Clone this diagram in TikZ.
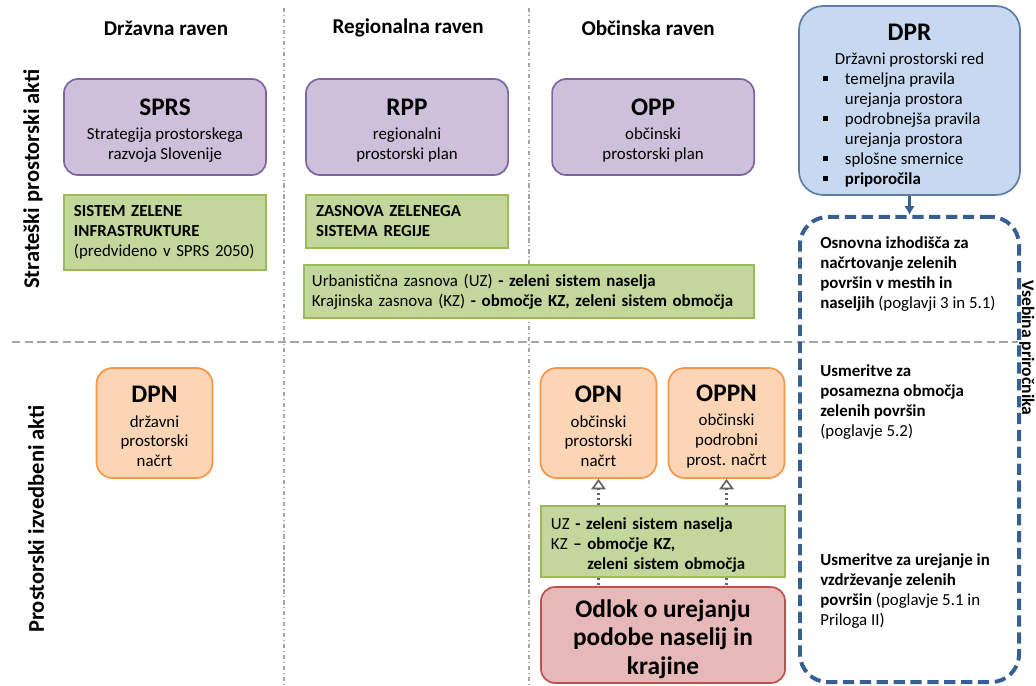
\documentclass[tikz,border=0pt]{standalone}
\usepackage{fontspec}
\setmainfont{Carlito}
\usepackage{tikz}
\usetikzlibrary{arrows.meta, positioning}

\definecolor{purplefill}{RGB}{204,192,218}
\definecolor{purpledraw}{RGB}{128,100,162}
\definecolor{greenfill}{RGB}{195,214,155}
\definecolor{greendraw}{RGB}{155,187,89}
\definecolor{bluefill}{RGB}{198,217,240}
\definecolor{bluedraw}{RGB}{90,125,170}
\definecolor{orangefill}{RGB}{252,213,181}
\definecolor{orangedraw}{RGB}{247,150,70}
\definecolor{redfill}{RGB}{230,185,184}
\definecolor{reddraw}{RGB}{192,80,77}
\definecolor{dashblue}{RGB}{54,96,146}
\definecolor{gridgray}{RGB}{166,166,166}
\definecolor{arrowgray}{RGB}{100,100,100}

\newcommand{\boxtitle}[1]{{\fontsize{18}{20}\selectfont\bfseries\rule{0pt}{17pt}#1}}
\newcommand{\sqbullet}{\rule[2.5pt]{3.5pt}{3.5pt}}

\tikzstyle{header} = [font=\fontsize{15}{18}\selectfont\bfseries]
\tikzstyle{aktlabel} = [font=\fontsize{16}{18}\selectfont\bfseries]
\tikzstyle{planbox} = [rectangle, 
rounded corners=0.35cm, 
minimum width=5.05cm, 
minimum height=2.4cm, 
align=center, 
line width=1.2pt, 
draw=purpledraw, 
fill=purplefill]
\tikzstyle{greenbox} = [rectangle, 
align=left, 
inner xsep=0.25cm, 
line width=1.2pt, 
draw=greendraw, 
fill=greenfill]
\tikzstyle{izvbox} = [rectangle, 
rounded corners=0.4cm, 
minimum width=2.9cm, 
minimum height=2.75cm, 
align=center, 
line width=1.2pt, 
draw=orangedraw, 
fill=orangefill]
\tikzstyle{odlokbox} = [rectangle, 
rounded corners=0.35cm, 
minimum width=6.1cm, 
minimum height=2.25cm, 
align=center, 
font=\fontsize{18}{20}\selectfont\bfseries, 
line width=1.2pt, 
draw=reddraw, 
fill=redfill]
\tikzstyle{dprbox} = [rectangle, 
rounded corners=0.6cm, 
minimum width=5.525cm, 
minimum height=4.625cm, 
align=center, 
line width=1.2pt, 
draw=bluedraw, 
fill=bluefill]
\tikzstyle{vsebinabox} = [rectangle, 
rounded corners=0.7cm, 
minimum width=5.475cm, 
minimum height=11.625cm, 
line width=2.8pt, 
dash pattern=on 8pt off 4pt, 
draw=dashblue]
\tikzstyle{smernica} = [anchor=north west, align=left, inner sep=0pt]
\tikzstyle{divider} = [draw=gridgray, line width=0.8pt]
\tikzstyle{povezava} = [draw=arrowgray, line width=1.5pt, dotted]

\begin{document}
\begin{tikzpicture}[x=0.025cm, y=-0.025cm, node distance=6.05cm, font=\fontsize{12}{14.2}\selectfont]

\useasboundingbox (0,0) rectangle (1036,685);

\coordinate (v1t) at (284,8);
\coordinate (v1b) at (284,685);
\coordinate (v2t) at (529,8);
\coordinate (v2b) at (529,685);
\coordinate (h1l) at (12,342);
\coordinate (h1r) at (1018,342);
\draw[divider, dash dot] (v1t) -- (v1b);
\draw[divider, dash dot] (v2t) -- (v2b);
\draw[divider, dash pattern=on 6pt off 3pt] (h1l) -- (h1r);

\node (drz) [header] at (166,28) {Državna raven};
\node (reg) [header, right of=drz] {Regionalna raven};
\node (obc) [header, right of=reg, xshift=-0.05cm] {Občinska raven};

\node (strat) [aktlabel, rotate=90] at (33,179) {Strateški prostorski akti};
\node (izved) [aktlabel, rotate=90] at (36,519) {Prostorski izvedbeni akti};

\node (sprs) [planbox] at (165,127) {\boxtitle{SPRS}\\[3pt] Strategija prostorskega\\ razvoja Slovenije};
\node (rpp) [planbox, right of=sprs] {\boxtitle{RPP}\\[3pt] regionalni\\ prostorski plan};
\node (opp) [planbox, right of=rpp, xshift=0.1cm] {\boxtitle{OPP}\\[3pt] občinski\\ prostorski plan};

\node (szi) [greenbox, text width=4.55cm, minimum height=1.875cm] at (165,232.5) {\textbf{SISTEM ZELENE}\\ \textbf{INFRASTRUKTURE}\\ (predvideno v SPRS 2050)};
\node (zzs) [greenbox, text width=4.55cm, minimum height=1.325cm, right of=szi, yshift=0.275cm] {\textbf{ZASNOVA ZELENEGA}\\ \textbf{SISTEMA REGIJE}};
\node (uzw) [greenbox, inner xsep=0.2cm, text width=10.85cm, minimum height=1.325cm] at (529,291.5) {Urbanistična zasnova (UZ) \textbf{- zeleni sistem naselja}\\ Krajinska zasnova (KZ) \textbf{- območje KZ, zeleni sistem območja}};

\node (dpr) [dprbox] at (909.5,100.5) {\boxtitle{\rule{0pt}{21pt}DPR}\\[3pt]
Državni prostorski red\\
\begin{tabular}[t]{@{}l@{\hspace{12pt}}l@{}}
\sqbullet & temeljna pravila\\
 & urejanja prostora\\
\sqbullet & podrobnejša pravila\\
 & urejanja prostora\\
\sqbullet & splošne smernice\\
\sqbullet & \textbf{priporočila}
\end{tabular}\hspace*{11pt}};

\node (prirocnik) [vsebinabox] at (909.5,449.5) {};
\draw[-{Latex[length=2.2mm, width=2.6mm]}, draw=dashblue, fill=dashblue, line width=1.5pt] (dpr.south) -- (dpr.south |- prirocnik.north);
\node (vsebina) [font=\fontsize{12.5}{15}\selectfont\bfseries, rotate=-90] at (1027,348) {Vsebina priročnika};

\node (osnova) [smernica] at (820,236) {\textbf{Osnovna izhodišča za}\\ \textbf{načrtovanje zelenih}\\ \textbf{površin v mestih in}\\ \textbf{naseljih} (poglavji 3 in 5.1)};
\node (usm1) [smernica] at (820,364) {\textbf{Usmeritve za}\\ \textbf{posamezna območja}\\ \textbf{zelenih površin}\\ (poglavje 5.2)};
\node (usm2) [smernica] at (820,553) {\textbf{Usmeritve za urejanje in}\\ \textbf{vzdrževanje zelenih}\\ \textbf{površin} (poglavje 5.1 in\\ Priloga II)};

\node (dpn) [izvbox] at (154.5,423) {\boxtitle{DPN}\\[3pt] državni\\ prostorski\\ načrt};
\node (opn) [izvbox] at (598.5,423) {\boxtitle{OPN}\\[3pt] občinski\\ prostorski\\ načrt};
\node (oppn) [izvbox, right of=opn, xshift=-2.85cm] {\boxtitle{OPPN}\\[3pt] občinski\\ podrobni\\ prost. načrt};

\node (uz2) [greenbox, text width=5.6cm, minimum height=1.775cm] at (663,541.5) {\rule{0pt}{13pt}UZ \textbf{- zeleni sistem naselja}\\ KZ \textbf{-- območje KZ,}\\ \phantom{KZ -- }\textbf{zeleni sistem območja}};
\node (odlok) [odlokbox] at (663,635) {\rule{0pt}{18.5pt}Odlok o urejanju\\ podobe naselij in\\ krajine};

\draw[povezava, -{Triangle[open, length=2.6mm, width=3.6mm, line width=1.2pt]}] (uz2.north -| opn) -- (opn.south);
\draw[povezava, -{Triangle[open, length=2.6mm, width=3.6mm, line width=1.2pt]}] (uz2.north -| oppn) -- (oppn.south);
\draw[povezava] (uz2.south -| opn) -- (odlok.north -| opn);
\draw[povezava] (uz2.south -| oppn) -- (odlok.north -| oppn);

\end{tikzpicture}
\end{document}
